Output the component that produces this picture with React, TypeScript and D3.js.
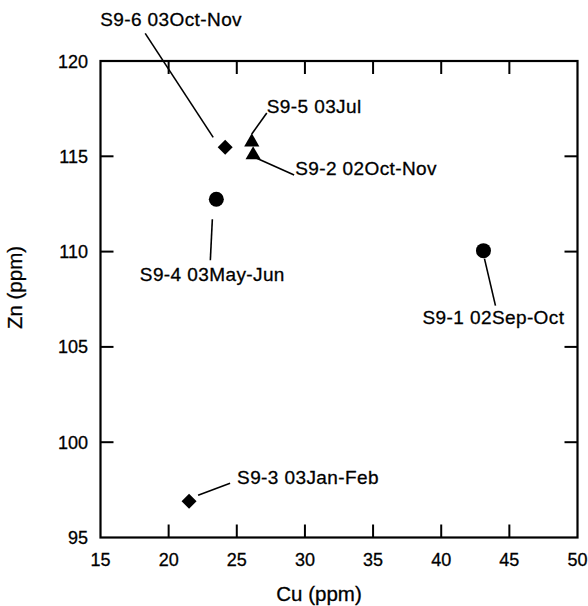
import React from "react";
import * as d3 from "d3";

const sampleIds = ["S9-1", "S9-2", "S9-3", "S9-4", "S9-5", "S9-6"];
const sampleDates = ["02Sep-Oct", "02Oct-Nov", "03Jan-Feb", "03May-Jun", "03Jul", "03Oct-Nov"];
const cuValues = [43.1, 26.2, 21.5, 23.5, 26.1, 24.15];
const znValues = [110.05, 115.07, 96.9, 112.75, 115.75, 115.47];
const markerTypes = ["circle", "triangle", "diamond", "circle", "triangle", "diamond"];

const xTicks = [15, 20, 25, 30, 35, 40, 45, 50];
const yTicks = [95, 100, 105, 110, 115, 120];

// label layout: leader start offset, leader end offset, text offset, anchor
const labelLayout = [
  { sx: 1, sy: 8, ex: 12, ey: 55, tx: 10, ty: 73, anchor: "middle" },
  { sx: 3, sy: 3, ex: 41, ey: 20, tx: 42, ty: 20, anchor: "start" },
  { sx: 9, sy: -6, ex: 41, ey: -18, tx: 48, ty: -17, anchor: "start" },
  { sx: -4, sy: 20, ex: -6, ey: 61, tx: -4, ty: 82, anchor: "middle" },
  { sx: 0, sy: -8, ex: 15, ey: -29, tx: 15, ty: -29, anchor: "start" },
  { sx: -12, sy: -10, ex: -80, ey: -114, tx: -125, ty: -121, anchor: "start" },
];

const W = 588;
const H = 606;
const M = { left: 100.5, right: 577.5, top: 61, bottom: 537.5 };
const FONT = "'Liberation Sans', Arial, Helvetica, sans-serif";

export default function App() {
  const x = d3.scaleLinear().domain([15, 50]).range([M.left, M.right]);
  const y = d3.scaleLinear().domain([95, 120]).range([M.bottom, M.top]);
  const tick = 13;

  const circleSym = d3.symbol().type(d3.symbolCircle).size(Math.PI * 7.5 * 7.5);
  const triSym = d3.symbol().type(d3.symbolTriangle).size(100);
  const diamondPath = (r: number) => `M0,${-r}L${r},0L0,${r}L${-r},0Z`;

  const markerPath = (t: string) => {
    if (t === "circle") return circleSym() as string;
    if (t === "triangle") return triSym() as string;
    return diamondPath(7.5);
  };

  const txtStroke = { stroke: "#000", strokeWidth: 0.3 };

  return (
    <svg width={W} height={H} style={{ position: "absolute", left: 0, top: 0, background: "#fff" }} fontFamily={FONT}>
      <rect x={0} y={0} width={W} height={H} fill="#fff" />
      {/* frame */}
      <rect x={M.left} y={M.top} width={M.right - M.left} height={M.bottom - M.top} fill="none" stroke="#000" strokeWidth={2.2} />
      {/* x ticks */}
      {xTicks.map((t) => (
        <g key={"x" + t}>
          {t !== 15 && t !== 50 && (
            <>
              <line x1={x(t)} x2={x(t)} y1={M.bottom} y2={M.bottom - tick} stroke="#000" strokeWidth={2} />
              <line x1={x(t)} x2={x(t)} y1={M.top} y2={M.top + tick} stroke="#000" strokeWidth={2} />
            </>
          )}
          <text x={x(t)} y={566} textAnchor="middle" fontSize={18} fill="#000" {...txtStroke}>{t}</text>
        </g>
      ))}
      {/* y ticks */}
      {yTicks.map((t) => (
        <g key={"y" + t}>
          {t !== 95 && t !== 120 && (
            <>
              <line x1={M.left} x2={M.left + tick} y1={y(t)} y2={y(t)} stroke="#000" strokeWidth={2} />
              <line x1={M.right} x2={M.right - tick} y1={y(t)} y2={y(t)} stroke="#000" strokeWidth={2} />
            </>
          )}
          <text x={88} y={y(t) + 6.5} textAnchor="end" fontSize={18} fill="#000" {...txtStroke}>{t}</text>
        </g>
      ))}
      {/* axis titles */}
      <text x={319} y={601} textAnchor="middle" fontSize={20.5} fill="#000" {...txtStroke}>Cu (ppm)</text>
      <text transform={`translate(22,287.5) rotate(-90)`} textAnchor="middle" fontSize={20.5} fill="#000" {...txtStroke}>Zn (ppm)</text>
      {/* points */}
      {sampleIds.map((id, i) => {
        const px = x(cuValues[i]);
        const py = y(znValues[i]);
        const L = labelLayout[i];
        return (
          <g key={id}>
            <path d={markerPath(markerTypes[i])} transform={`translate(${px},${py})`} fill="#000" />
            <line x1={px + L.sx} y1={py + L.sy} x2={px + L.ex} y2={py + L.ey} stroke="#000" strokeWidth={1.6} />
            <text x={px + L.tx} y={py + L.ty} textAnchor={L.anchor} fontSize={19} letterSpacing={0.4} fill="#000" {...txtStroke}>
              {id} {sampleDates[i]}
            </text>
          </g>
        );
      })}
    </svg>
  );
}
